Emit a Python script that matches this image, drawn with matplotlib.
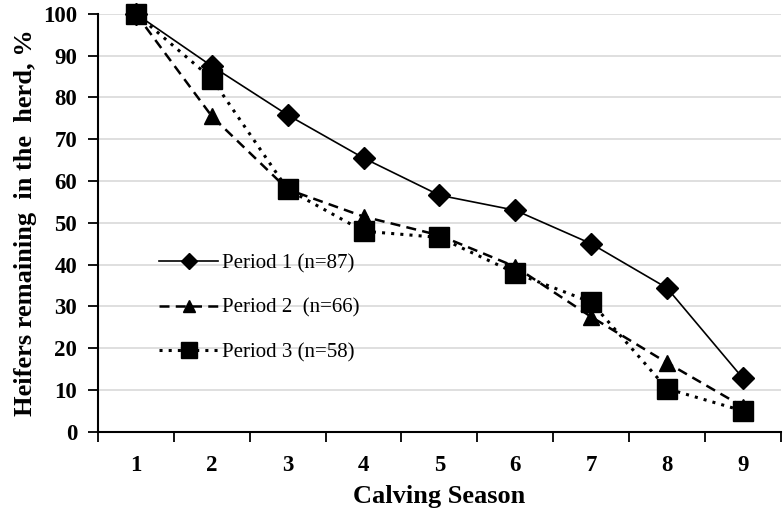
import matplotlib
matplotlib.use("Agg")
import matplotlib.pyplot as plt

seasons = [1, 2, 3, 4, 5, 6, 7, 8, 9]
period1 = [100, 87.5, 75.8, 65.5, 56.6, 53.0, 45.0, 34.4, 12.8]
period2 = [100, 75.5, 58.0, 51.5, 47.0, 39.5, 27.5, 16.5, 6.0]
period3 = [100, 84.5, 58.0, 48.0, 46.5, 38.0, 31.0, 10.3, 5.0]
labels = ["Period 1 (n=87)", "Period 2  (n=66)", "Period 3 (n=58)"]

plt.rcParams["font.family"] = ["Liberation Serif", "DejaVu Serif"]

fig = plt.figure(figsize=(7.84, 5.14), dpi=100)
ax = fig.add_axes([0.125, 0.16, 0.871, 0.813])

ax.plot(seasons, period1, color="black", lw=1.2, ls="-", marker="D",
        markersize=11.5, label=labels[0], clip_on=False, zorder=3)
ax.plot(seasons, period2, color="black", lw=1.8, ls=(0, (4, 2.5)), marker="^",
        markersize=11.5, label=labels[1], clip_on=False, zorder=3)
ax.plot(seasons, period3, color="black", lw=2.2, ls=(0, (1, 2)), marker="s",
        markersize=14.5, label=labels[2], clip_on=False, zorder=3)

ax.set_xlim(0.5, 9.5)
ax.set_ylim(0, 100)
ax.set_yticks(range(0, 101, 10))
ax.set_xticks(seasons)
ax.set_xticks([s + 0.5 for s in range(0, 10)], minor=True)
ax.tick_params(axis="x", which="major", length=0, pad=17, labelsize=16.5)
ax.tick_params(axis="x", which="minor", length=7, width=1.3, direction="out")
ax.tick_params(axis="y", length=7, width=1.3, labelsize=16.5, pad=8)
for lab in ax.get_xticklabels() + ax.get_yticklabels():
    lab.set_fontweight("bold")

ax.grid(axis="y", color="#d9d9d9", lw=1.2)
ax.set_axisbelow(True)
for s in ["top", "right"]:
    ax.spines[s].set_visible(False)
for s in ["left", "bottom"]:
    ax.spines[s].set_linewidth(1.5)

ax.set_xlabel("Calving Season", fontsize=19, fontweight="bold", labelpad=6)
ax.set_ylabel("Heifers remaining  in the  herd, %", fontsize=19, fontweight="bold", labelpad=4)

ax.legend(loc="upper left", bbox_to_anchor=(0.09, 0.426), frameon=False,
          fontsize=15, handlelength=2.8, labelspacing=1.2, markerscale=0.75,
          handletextpad=0.2, borderaxespad=0, borderpad=0)

fig.savefig("out.png", dpi=100)
